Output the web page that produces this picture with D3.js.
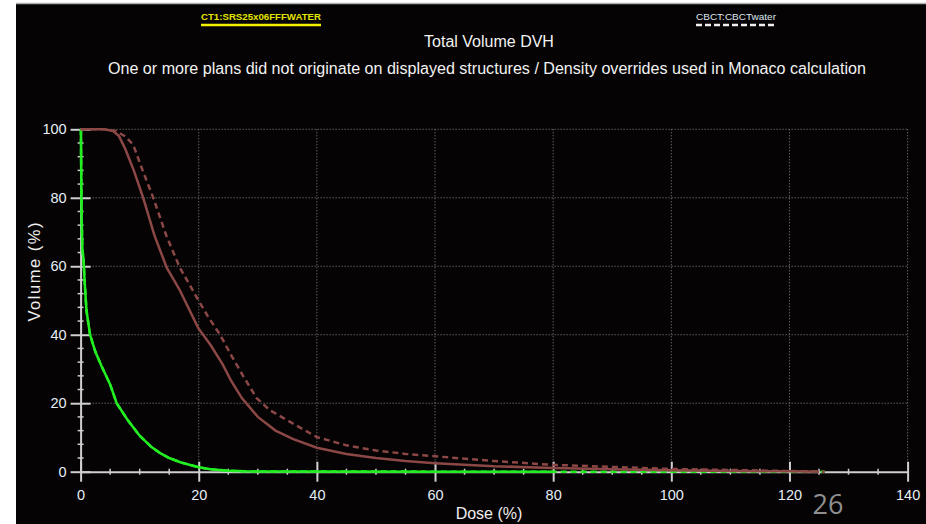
<!DOCTYPE html>
<html><head><meta charset="utf-8">
<script src="https://cdn.jsdelivr.net/npm/d3@7/dist/d3.min.js"></script>
<style>html,body{margin:0;padding:0;background:#fff;}svg{display:block;}</style>
</head><body>
<script>
// ---- Data ----
const xTicks = [0, 20, 40, 60, 80, 100, 120, 140];
const yTicks = [0, 20, 40, 60, 80, 100];
const legendLabels = ["CT1:SRS25x06FFFWATER", "CBCT:CBCTwater"];
const titleLines = ["Total Volume DVH",
  "One or more plans did not originate on displayed structures / Density overrides used in Monaco calculation"];

// Green structure, CT1 plan (solid)
const greenCT = [[0,100],[0.05,100],[0.1,88],[0.2,72],[0.3,65],[0.5,62],[0.7,55],[1,47],[1.6,40],[2.5,35],[3.5,31],[5,25.5],[6.1,20],[8,15],[10,10.5],[12,7.2],[13.4,5.5],[15,4],[17,2.7],[20,1.3],[22,0.7],[25,0.3],[28,0.1],[35,0.05],[60,0.02],[80,0]];
// Green structure, CBCT plan (dashed)
const greenCB = [[0,100],[0.05,100],[0.1,89],[0.2,73],[0.3,65],[0.5,62],[0.7,55],[1,47],[1.6,40],[2.5,35],[3.5,31],[5,25.5],[6.1,20],[8,15],[10,10.5],[12,7.2],[13.4,5.5],[15,4],[17,2.7],[20,1.3],[22,0.7],[25,0.3],[28,0.1],[35,0.05],[60,0.02],[126,0]];
// Brown structure, CT1 plan (solid)
const brownCT = [[0,100],[4,100],[5.5,99.5],[6.5,98],[7.5,94.5],[9,88],[10.6,80],[12.5,69],[14.6,59.5],[16.8,53],[19.9,42],[22,37],[24,31.5],[25.5,26.5],[27.3,21.5],[30,16],[33,12],[36,9.5],[40,7],[45,5.2],[50,4],[55,3.1],[60,2.5],[70,1.6],[80,1.1],[90,0.7],[100,0.4],[110,0.2],[120,0.1],[125,0]];
// Brown structure, CBCT plan (dashed)
const brownCB = [[0,100],[4,100],[6,99.5],[7.5,98],[8.9,95.5],[10.5,88],[12.3,80],[14.5,69],[16.8,59.6],[19.9,50.2],[21.5,45.5],[23.6,40],[25.5,34],[27.5,28],[29.8,21.5],[32,18],[35,15],[40,10.1],[45,7.7],[50,6.2],[55,5.2],[60,4.5],[70,3.1],[80,2],[90,1.4],[100,0.8],[110,0.5],[120,0.2],[126,0]];

// ---- Layout ----
const W = 926, H = 524;
const svg = d3.select("body").append("svg").attr("width", W).attr("height", H);
svg.append("rect").attr("x", 16).attr("y", 4).attr("width", W - 16).attr("height", H - 4).attr("fill", "#050303");
svg.append("line").attr("x1", 16).attr("x2", W).attr("y1", 3.5).attr("y2", 3.5).attr("stroke", "#b0b0b0").attr("stroke-width", 1.5);

const x = d3.scaleLinear().domain([0, 140]).range([80.6, 907.6]);
const y = d3.scaleLinear().domain([0, 100]).range([471.7, 129.3]);
const font = "'Liberation Sans', Arial, sans-serif";

// Grid (dotted)
const grid = svg.append("g").attr("stroke", "#8a8a8a").attr("stroke-width", 1).attr("stroke-dasharray", "1,2");
xTicks.filter(d => d > 0).forEach(d => grid.append("line").attr("x1", x(d)).attr("x2", x(d)).attr("y1", y(100)).attr("y2", y(0)));
yTicks.filter(d => d > 0).forEach(d => grid.append("line").attr("x1", x(0)).attr("x2", x(140)).attr("y1", y(d)).attr("y2", y(d)));

// Axes
const axCol = "#cfcfcf";
const xAxis = svg.append("g").attr("transform", `translate(0,${y(0)})`)
  .call(d3.axisBottom(x).tickValues(xTicks).tickSize(10).tickSizeOuter(0).tickPadding(8));
xAxis.select(".domain").attr("stroke", axCol).attr("stroke-width", 2);
xAxis.selectAll(".tick line").attr("stroke", axCol).attr("stroke-width", 2).attr("y1", -10);
xAxis.selectAll(".tick text").attr("fill", "#e6eef6").attr("font-family", font).attr("font-size", 14.5);
const xMinor = d3.range(0, 141, 5).filter(d => d % 20 !== 0);
xAxis.selectAll(".minor").data(xMinor).join("line").attr("class", "minor")
  .attr("x1", d => x(d)).attr("x2", d => x(d)).attr("y1", -3).attr("y2", 3).attr("stroke", axCol).attr("stroke-width", 1.5);

const yAxis = svg.append("g").attr("transform", `translate(${x(0)},0)`)
  .call(d3.axisLeft(y).tickValues(yTicks).tickSize(10).tickSizeOuter(0).tickPadding(4));
yAxis.select(".domain").attr("stroke", axCol).attr("stroke-width", 2);
yAxis.selectAll(".tick line").attr("stroke", axCol).attr("stroke-width", 2).attr("x2", 10).attr("x1", -10);
yAxis.selectAll(".tick text").attr("fill", "#e6eef6").attr("font-family", font).attr("font-size", 14.5);
const yMinor = d3.range(0, 101, 4).filter(d => d % 20 !== 0);
yAxis.selectAll(".minor").data(yMinor).join("line").attr("class", "minor")
  .attr("y1", d => y(d)).attr("y2", d => y(d)).attr("x1", -3).attr("x2", 3).attr("stroke", axCol).attr("stroke-width", 1.5);

// Curves
const line = d3.line().x(d => x(d[0])).y(d => y(d[1]));
const brown = "#8c4846";
const green = "#22ee22";
svg.append("path").attr("d", line(greenCB)).attr("fill", "none").attr("stroke", green).attr("stroke-width", 2.5).attr("stroke-dasharray", "6,4");
svg.append("path").attr("d", line(greenCT)).attr("fill", "none").attr("stroke", green).attr("stroke-width", 2.5);
svg.append("path").attr("d", line(brownCB)).attr("fill", "none").attr("stroke", brown).attr("stroke-width", 2.5).attr("stroke-dasharray", "6,4");
svg.append("path").attr("d", line(brownCT)).attr("fill", "none").attr("stroke", brown).attr("stroke-width", 2.5);

// Titles
svg.append("text").attr("x", 489).attr("y", 47).attr("text-anchor", "middle").attr("fill", "#f2f2f2")
  .attr("font-family", font).attr("font-size", 16).text(titleLines[0]);
svg.append("text").attr("x", 487).attr("y", 74).attr("text-anchor", "middle").attr("fill", "#f2f2f2")
  .attr("font-family", font).attr("font-size", 16).attr("textLength", 758).attr("lengthAdjust", "spacingAndGlyphs").text(titleLines[1]);

// Legend
svg.append("text").attr("x", 201).attr("y", 20).attr("fill", "#e4e400").attr("font-family", font)
  .attr("font-size", 9.5).attr("font-weight", "bold").attr("textLength", 120).attr("lengthAdjust", "spacingAndGlyphs").text(legendLabels[0]);
svg.append("line").attr("x1", 201).attr("x2", 321).attr("y1", 25).attr("y2", 25).attr("stroke", "#f2f200").attr("stroke-width", 2.5);
svg.append("text").attr("x", 696).attr("y", 20).attr("fill", "#dde6f0").attr("font-family", font)
  .attr("font-size", 9.5).attr("textLength", 80).attr("lengthAdjust", "spacingAndGlyphs").text(legendLabels[1]);
svg.append("line").attr("x1", 696).attr("x2", 776).attr("y1", 25).attr("y2", 25).attr("stroke", "#f0f0f0").attr("stroke-width", 2.5).attr("stroke-dasharray", "6,3");

// Axis titles
svg.append("text").attr("transform", `translate(40,272) rotate(-90)`).attr("text-anchor", "middle").attr("fill", "#eeeeee")
  .attr("font-family", font).attr("font-size", 16.5).attr("textLength", 99).attr("lengthAdjust", "spacing").text("Volume (%)");
svg.append("text").attr("x", 489).attr("y", 519).attr("text-anchor", "middle").attr("fill", "#eeeeee")
  .attr("font-family", font).attr("font-size", 16).text("Dose (%)");

// Slide number overlay
svg.append("text").attr("x", 828).attr("y", 514).attr("text-anchor", "middle").attr("fill", "#8f8f8f")
  .attr("font-family", "'Open Sans', sans-serif").attr("font-size", 27).text("26");
</script>
</body></html>
